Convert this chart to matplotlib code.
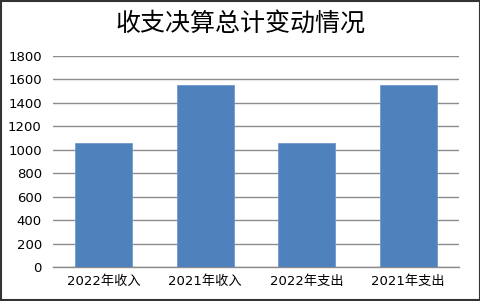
import matplotlib
matplotlib.use("Agg")
import matplotlib.pyplot as plt
from matplotlib.patches import Rectangle

categories = ["2022年收入", "2021年收入", "2022年支出", "2021年支出"]
values = [1060, 1555, 1060, 1555]
yticks = [0, 200, 400, 600, 800, 1000, 1200, 1400, 1600, 1800]
title = "收支决算总计变动情况"

plt.rcParams["font.family"] = ["DejaVu Sans", "Noto Sans CJK SC"]

fig = plt.figure(figsize=(4.81, 3.01), dpi=100)
ax = fig.add_axes([0.110, 0.113, 0.844, 0.701])

x = range(len(categories))
ax.bar(x, values, width=0.56, color="#4F81BD", edgecolor="#6F98CC", lw=0.6, zorder=3)
ax.set_xlim(-0.5, len(categories) - 0.5)
ax.set_ylim(0, 1800)
ax.set_yticks(yticks)
ax.set_xticks(list(x))
ax.set_xticklabels(categories, family=["DejaVu Sans", "Noto Sans CJK SC"])
ax.tick_params(axis="both", length=0, labelsize=9.5, colors="black", pad=8)
ax.tick_params(axis="x", pad=6)
ax.grid(axis="y", color="#8C8C8C", lw=1.0, zorder=0)
for s in ["left", "right", "top"]:
    ax.spines[s].set_visible(False)
ax.spines["bottom"].set_color("#8C8C8C")
ax.spines["bottom"].set_linewidth(1.0)

fig.text(0.5, 0.922, title, ha="center", va="center", fontsize=18,
         family="Noto Sans CJK SC", fontweight="light")

fig.patches.append(Rectangle((0.002, 0.004), 0.995, 0.993, transform=fig.transFigure,
                             fill=False, edgecolor="#333333", lw=1.5))

fig.savefig("out.png", dpi=100)
